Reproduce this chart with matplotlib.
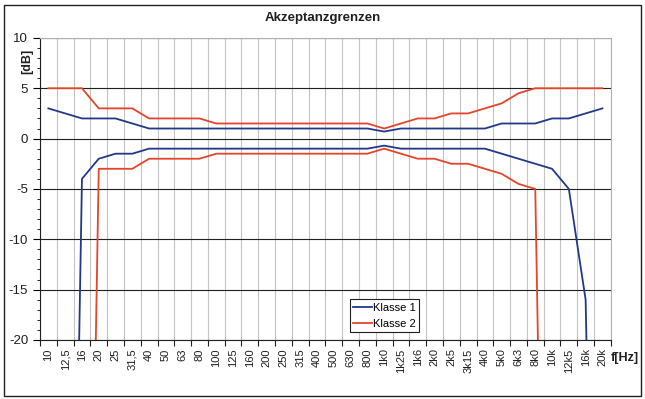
import matplotlib
matplotlib.use('Agg')
import matplotlib.pyplot as plt
from matplotlib.patches import Rectangle
from matplotlib.ticker import MultipleLocator, FixedLocator

plt.rcParams['font.family'] = ['Liberation Sans', 'DejaVu Sans']
plt.rcParams['axes.unicode_minus'] = False

# Terzband frequencies (category labels)
freq_labels = ['10', '12,5', '16', '20', '25', '31,5', '40', '50', '63', '80',
               '100', '125', '160', '200', '250', '315', '400', '500', '630', '800',
               '1k0', '1k25', '1k6', '2k0', '2k5', '3k15', '4k0', '5k0', '6k3', '8k0',
               '10k', '12k5', '16k', '20k']

# Tolerance limits in dB (-100 stands for "no lower limit", runs off the chart)
k1_upper = [3, 2.5, 2, 2, 2, 1.5, 1, 1, 1, 1,
            1, 1, 1, 1, 1, 1, 1, 1, 1, 1,
            0.7, 1, 1, 1, 1, 1, 1, 1.5, 1.5, 1.5,
            2, 2, 2.5, 3]
k1_lower = [-100, -100, -4, -2, -1.5, -1.5, -1, -1, -1, -1,
            -1, -1, -1, -1, -1, -1, -1, -1, -1, -1,
            -0.7, -1, -1, -1, -1, -1, -1, -1.5, -2, -2.5,
            -3, -5, -16, -100]
k2_upper = [5, 5, 5, 3, 3, 3, 2, 2, 2, 2,
            1.5, 1.5, 1.5, 1.5, 1.5, 1.5, 1.5, 1.5, 1.5, 1.5,
            1, 1.5, 2, 2, 2.5, 2.5, 3, 3.5, 4.5, 5,
            5, 5, 5, 5]
k2_lower = [-100, -100, -100, -3, -3, -3, -2, -2, -2, -2,
            -1.5, -1.5, -1.5, -1.5, -1.5, -1.5, -1.5, -1.5, -1.5, -1.5,
            -1, -1.5, -2, -2, -2.5, -2.5, -3, -3.5, -4.5, -5,
            -100, -100, -100, -100]

blue = '#22398a'
red = '#e5452b'

x = list(range(len(freq_labels)))

fig = plt.figure(figsize=(6.45, 3.99), dpi=100)
ax = fig.add_axes([0.062, 0.148, 0.885, 0.757])

ax.plot(x, k1_upper, color=blue, lw=1.3, label='Klasse 1')
ax.plot(x, k1_lower, color=blue, lw=1.3)
ax.plot(x, k2_upper, color=red, lw=1.3, label='Klasse 2')
ax.plot(x, k2_lower, color=red, lw=1.3)

ax.set_xlim(-0.5, len(freq_labels) - 0.5)
ax.set_ylim(-20, 10)

# x axis: ticks/grid between categories, labels at centers
ax.xaxis.set_major_locator(FixedLocator([i - 0.5 for i in range(len(freq_labels) + 1)]))
ax.xaxis.set_minor_locator(FixedLocator(x))
ax.set_xticklabels([], minor=False)
ax.set_xticklabels(freq_labels, minor=True, rotation=90, fontsize=8, color='#202020')
ax.tick_params(axis='x', which='major', length=4, direction='out', color='#202020')
ax.tick_params(axis='x', which='minor', length=0, pad=6)
ax.grid(axis='x', which='major', color='#c4c4c4', lw=0.8)

# y axis
ax.yaxis.set_major_locator(MultipleLocator(5))
ax.yaxis.set_minor_locator(MultipleLocator(1))
ax.tick_params(axis='y', which='major', length=5, labelsize=9.5, labelcolor='#202020')
ax.tick_params(axis='y', which='minor', length=2.5)
ax.grid(axis='y', which='major', color='#202020', lw=0.8)
ax.set_axisbelow(True)

for s in ['top', 'right']:
    ax.spines[s].set_color('#b0b0b0')
for s in ['left', 'bottom']:
    ax.spines[s].set_color('#202020')

fig.text(0.5, 0.955, 'Akzeptanzgrenzen', ha='center', va='center',
         fontsize=9.5, fontweight='bold', color='#202020')
fig.text(0.042, 0.847, '[dB]', ha='center', va='center', rotation=90,
         fontsize=9, fontweight='bold', color='#202020')
fig.text(0.969, 0.103, 'f[Hz]', ha='center', va='center',
         fontsize=9, fontweight='bold', color='#202020')

leg = ax.legend(loc='lower left', bbox_to_anchor=(0.543, 0.026), borderaxespad=0,
                fontsize=8, handlelength=1.7, handletextpad=0.1, borderpad=0.3,
                labelspacing=0.55, fancybox=False, framealpha=1)
leg.get_frame().set_edgecolor('#202020')
leg.get_frame().set_linewidth(0.8)

# chart area border
fig.patches.append(Rectangle((0.006, 0.007), 0.988, 0.98, transform=fig.transFigure,
                             fill=False, edgecolor='#202020', lw=1))

plt.savefig('out.png', dpi=100)
plt.close()
